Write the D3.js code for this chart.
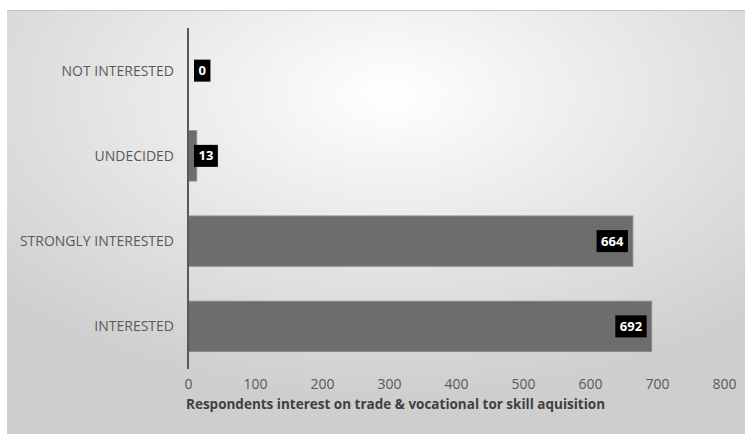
<!DOCTYPE html>
<html>
<head>
<meta charset="utf-8">
<script src="https://cdn.jsdelivr.net/npm/d3@7"></script>
<style>
  body { margin: 0; background: #fff; }
  svg text { font-family: "Open Sans", sans-serif; }
</style>
</head>
<body>
<div id="chart"></div>
<script>
const svgWidth = 745;
const svgHeight = 435;

// data
const categories = ["NOT INTERESTED", "UNDECIDED", "STRONGLY INTERESTED", "INTERESTED"];
const counts = [0, 13, 664, 692];
const xTicks = [0, 100, 200, 300, 400, 500, 600, 700, 800];
const xTitle = "Respondents interest on trade & vocational tor skill aquisition";

const margin = { top: 28, right: 21, bottom: 66, left: 188 };
const width = svgWidth - margin.left - margin.right;
const height = svgHeight - margin.top - margin.bottom;

const svg = d3.select("#chart")
  .append("svg")
  .attr("width", svgWidth)
  .attr("height", svgHeight);

// background gradient like the office chart area
const defs = svg.append("defs");
const grad = defs.append("radialGradient")
  .attr("id", "bg")
  .attr("cx", "52%").attr("cy", "20%").attr("r", "72%");
grad.append("stop").attr("offset", "0%").attr("stop-color", "#ffffff");
grad.append("stop").attr("offset", "100%").attr("stop-color", "#cecece");

svg.append("rect")
  .attr("x", 7).attr("y", 10)
  .attr("width", svgWidth - 7).attr("height", 424)
  .attr("fill", "url(#bg)");
svg.append("line")
  .attr("x1", 7).attr("x2", svgWidth).attr("y1", 10.5).attr("y2", 10.5)
  .attr("stroke", "#c4c4c4");

const chartGroup = svg.append("g")
  .attr("transform", `translate(${margin.left}, ${margin.top})`);

const xScale = d3.scaleLinear()
  .domain([0, 800])
  .range([0, 536]);

const yScale = d3.scaleBand()
  .domain(categories)
  .range([0, height])
  .paddingInner(0.41)
  .paddingOuter(0.205);

// bars
chartGroup.selectAll(".bar")
  .data(counts)
  .enter()
  .append("rect")
  .attr("class", "bar")
  .attr("x", 0)
  .attr("y", (d, i) => yScale(categories[i]))
  .attr("width", d => xScale(d))
  .attr("height", yScale.bandwidth())
  .attr("fill", "#6d6d6d")
  .attr("stroke", "#8a8a8a")
  .attr("stroke-width", d => d > 0 ? 1 : 0);

// vertical axis line
chartGroup.append("line")
  .attr("x1", 0).attr("x2", 0)
  .attr("y1", 0).attr("y2", height)
  .attr("stroke", "#595959")
  .attr("stroke-width", 2);

// category labels
chartGroup.selectAll(".cat")
  .data(categories)
  .enter()
  .append("text")
  .attr("class", "cat")
  .attr("x", -14)
  .attr("y", d => yScale(d) + yScale.bandwidth() / 2)
  .attr("dy", "0.35em")
  .attr("text-anchor", "end")
  .attr("font-size", 14)
  .attr("fill", "#595959")
  .text(d => d);

// x axis (labels only)
const bottomAxis = d3.axisBottom(xScale)
  .tickValues(xTicks)
  .tickSize(0)
  .tickPadding(0);

const xAxis = chartGroup.append("g")
  .attr("transform", `translate(0, ${height + 10})`)
  .call(bottomAxis);
xAxis.select(".domain").remove();
xAxis.selectAll("text")
  .attr("font-size", 14)
  .attr("fill", "#595959")
  .attr("font-family", "Open Sans, sans-serif");

chartGroup.append("text")
  .attr("x", -2)
  .attr("y", height + 40)
  .attr("font-size", 13.5)
  .attr("font-weight", "bold")
  .attr("fill", "#404040")
  .text(xTitle);

// data labels: black boxes with white numbers
const labels = chartGroup.selectAll(".lbl")
  .data(counts)
  .enter()
  .append("g")
  .attr("class", "lbl");

labels.each(function(d, i) {
  const g = d3.select(this);
  const t = g.append("text")
    .attr("font-size", 13)
    .attr("font-weight", "bold")
    .attr("fill", "#ffffff")
    .attr("text-anchor", "middle")
    .attr("dy", "0.35em")
    .text(d);
  const w = t.node().getComputedTextLength() + 9;
  const h = 22;
  let x0 = xScale(d) - 5 - w;
  if (x0 < 6) x0 = 6;
  const cy = yScale(categories[i]) + yScale.bandwidth() / 2;
  g.insert("rect", "text")
    .attr("x", x0).attr("y", cy - h / 2)
    .attr("width", w).attr("height", h)
    .attr("fill", "#000");
  t.attr("x", x0 + w / 2).attr("y", cy);
});
</script>
</body>
</html>
